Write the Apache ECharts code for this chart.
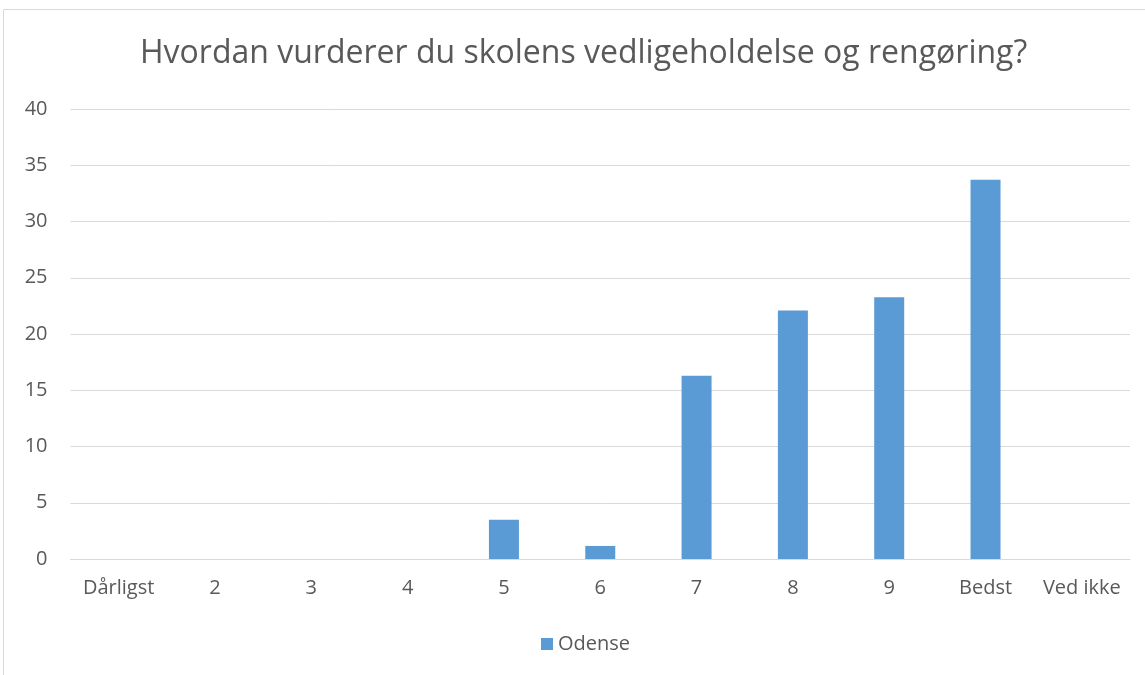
<!DOCTYPE html>
<html><head><meta charset="utf-8">
<script src="https://cdn.jsdelivr.net/npm/echarts@6/dist/echarts.min.js"></script>
<style>html,body{margin:0;padding:0;background:#fff}#c{width:1145px;height:675px}</style>
</head><body><div id="c"></div>
<script>
const title = 'Hvordan vurderer du skolens vedligeholdelse og rengøring?';
const categories = ['Dårligst','2','3','4','5','6','7','8','9','Bedst','Ved ikke'];
const seriesName = 'Odense';
const values = [0,0,0,0,3.49,1.16,16.28,22.09,23.26,33.72,0];
const yTicks = {min:0,max:40,interval:5};

const chart = echarts.init(document.getElementById('c'));
chart.setOption({
  animation:false,
  textStyle:{fontFamily:'Open Sans'},
  graphic:[{type:'rect',shape:{x:3.5,y:9.5,width:1200,height:700},style:{fill:'none',stroke:'#d9d9d9',lineWidth:1},silent:true}],
  title:{text:title,left:135,top:33,textStyle:{fontFamily:'Open Sans',fontWeight:'normal',fontSize:32,color:'#595959'}},
  legend:{bottom:16,left:536,itemWidth:12,itemHeight:12,icon:'rect',itemGap:6,textStyle:{fontSize:20,color:'#595959'}},
  grid:{left:70.5,right:15,top:109,bottom:116,containLabel:false},
  xAxis:{type:'category',data:categories,axisTick:{show:false},axisLine:{lineStyle:{color:'#d9d9d9',width:1}},
    axisLabel:{fontSize:20,color:'#595959',margin:19,interval:0}},
  yAxis:{type:'value',min:yTicks.min,max:yTicks.max,interval:yTicks.interval,
    axisLabel:{fontSize:20,color:'#595959',margin:23},
    splitLine:{lineStyle:{color:'#d9d9d9',width:1}},axisLine:{show:false},axisTick:{show:false}},
  series:[{name:seriesName,type:'bar',data:values,barWidth:30,itemStyle:{color:'#5b9bd5'}}]
});
</script></body></html>
